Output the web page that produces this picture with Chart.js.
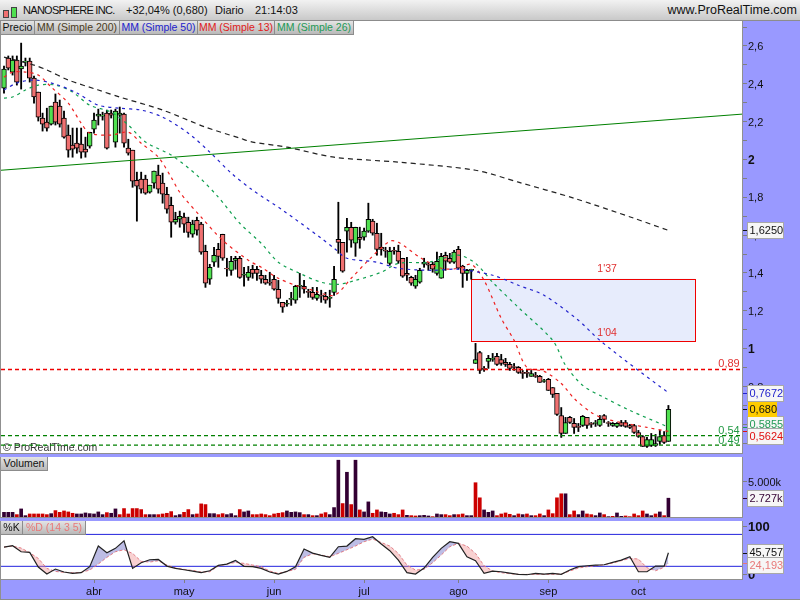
<!DOCTYPE html>
<html lang="es">
<head>
<meta charset="utf-8">
<title>NANOSPHERE INC.</title>
<script src="https://cdn.jsdelivr.net/npm/chart.js@4"></script>
<style>
  html, body { margin: 0; padding: 0; width: 800px; height: 600px; overflow: hidden; background: #9999ff; font: 11px "Liberation Sans", Arial, sans-serif; color: #111; }
  canvas { position: absolute; left: 0; }
  #cabecera { position: absolute; left: 0; top: 0; width: 800px; height: 20px; background: linear-gradient(#f2f2f2, #c9c9c9); border-bottom: 1px solid #8c8c8c; font-size: 11px; }
  #cabecera span { position: absolute; top: 4px; white-space: nowrap; }
  .vela { position: absolute; border: 1px solid #444; width: 4px; }
  .etiqueta { position: absolute; height: 13px; line-height: 13px; text-align: center; background: linear-gradient(#e4e4e4, #b9b9b9); border-right: 1px solid #8c8c8c; border-bottom: 1px solid #8c8c8c; white-space: nowrap; overflow: hidden; font-size: 10.5px; }
  #pie { position: absolute; left: 0; top: 599px; width: 800px; height: 1px; background: #8c8c8c; }
</style>
</head>
<body>
<canvas id="precioChart" width="800" height="433" style="top:21px"></canvas>
<canvas id="volumenChart" width="800" height="61" style="top:457px"></canvas>
<canvas id="estocasticoChart" width="800" height="79" style="top:521px"></canvas>

<div id="cabecera">
  <div class="vela" style="left:3px;top:10px;height:6px;background:#f07070"></div>
  <div class="vela" style="left:11px;top:7px;height:9px;background:#50e050"></div>
  <span style="left:23px;letter-spacing:-0.7px">NANOSPHERE INC.</span>
  <span style="left:126px">+32,04% (0,680)</span>
  <span style="left:215px">Diario</span>
  <span style="left:255px">21:14:03</span>
  <span style="right:3px;font-size:12.5px;top:3px">www.ProRealTime.com</span>
</div>
<div class="etiqueta" style="left:1px;top:21px;width:33px">Precio</div>
<div class="etiqueta" style="left:35px;top:21px;width:84px;color:#4a3a20">MM (Simple 200)</div>
<div class="etiqueta" style="left:120px;top:21px;width:77px;color:#2222cc">MM (Simple 50)</div>
<div class="etiqueta" style="left:198px;top:21px;width:76px;color:#e02020">MM (Simple 13)</div>
<div class="etiqueta" style="left:275px;top:21px;width:78px;color:#229955">MM (Simple 26)</div>
<div class="etiqueta" style="left:1px;top:457px;width:46px">Volumen</div>
<div class="etiqueta" style="left:1px;top:521px;width:21px">%K</div>
<div class="etiqueta" style="left:23px;top:521px;width:62px;color:#e87878">%D (14 3 5)</div>
<div id="pie"></div>

<script>
// Velas diarias
const aperturas = [
  2.377,2.536,2.462,2.525,2.478,2.515,2.520,2.430,2.356,2.219,
  2.197,2.187,2.303,2.282,2.219,2.129,2.076,2.086,2.081,2.055,
  2.070,2.160,2.229,2.229,2.245,2.245,2.092,2.234,2.240,2.060,
  2.049,1.890,1.896,1.896,1.827,1.875,1.917,1.875,1.816,1.758,
  1.668,1.684,1.695,1.668,1.605,1.679,1.658,1.515,1.367,1.457,
  1.525,1.605,1.425,1.414,1.467,1.478,1.388,1.377,1.420,1.420,
  1.388,1.367,1.351,1.367,1.314,1.245,1.235,1.261,1.256,1.330,
  1.330,1.303,1.298,1.266,1.282,1.277,1.266,1.298,1.578,1.562,
  1.621,1.642,1.557,1.589,1.589,1.621,1.674,1.610,1.536,1.520,
  1.451,1.520,1.515,1.478,1.398,1.377,1.330,1.351,1.446,1.446,
  1.446,1.398,1.372,1.494,1.478,1.457,1.525,1.435,1.398,1.414,
  0.922,0.980,0.896,0.933,0.943,0.959,0.943,0.928,0.917,0.906,
  0.901,0.875,0.875,0.854,0.859,0.854,0.827,0.838,0.795,0.764,
  0.647,0.552,0.637,0.605,0.589,0.594,0.637,0.605,0.605,0.594,
  0.647,0.610,0.594,0.589,0.610,0.610,0.594,0.594,0.557,0.536,
  0.483,0.489,0.489,0.510,0.541,0.510
];
const cierres = [
  2.478,2.483,2.525,2.409,2.494,2.520,2.430,2.330,2.224,2.187,
  2.166,2.282,2.197,2.187,2.118,2.049,2.055,2.060,2.039,2.039,
  2.144,2.208,2.240,2.234,2.060,2.234,2.256,2.245,2.086,2.033,
  1.885,1.859,1.843,1.822,1.864,1.938,1.843,1.816,1.737,1.668,
  1.684,1.700,1.658,1.615,1.658,1.626,1.510,1.346,1.430,1.494,
  1.488,1.478,1.422,1.462,1.478,1.377,1.393,1.404,1.398,1.398,
  1.367,1.346,1.346,1.314,1.266,1.219,1.240,1.266,1.330,1.335,
  1.314,1.298,1.271,1.287,1.277,1.256,1.271,1.367,1.562,1.409,
  1.642,1.573,1.642,1.578,1.621,1.684,1.610,1.525,1.525,1.515,
  1.515,1.515,1.462,1.383,1.388,1.346,1.367,1.414,1.457,1.441,
  1.420,1.462,1.488,1.462,1.457,1.510,1.425,1.398,1.414,1.420,
  0.943,0.885,0.891,0.949,0.949,0.917,0.922,0.917,0.896,0.901,
  0.875,0.869,0.869,0.869,0.854,0.822,0.832,0.779,0.758,0.652,
  0.552,0.610,0.610,0.584,0.584,0.642,0.594,0.600,0.610,0.626,
  0.626,0.605,0.605,0.605,0.594,0.589,0.584,0.557,0.536,0.483,
  0.520,0.520,0.499,0.536,0.504,0.680
];
const maximos = [
  2.494,2.547,2.547,2.547,2.615,2.536,2.536,2.441,2.356,2.245,
  2.271,2.282,2.346,2.314,2.256,2.182,2.166,2.166,2.166,2.118,
  2.144,2.245,2.266,2.250,2.261,2.261,2.266,2.277,2.245,2.107,
  2.049,1.933,1.933,1.917,1.864,1.938,1.970,1.928,1.853,1.801,
  1.721,1.727,1.716,1.695,1.679,1.695,1.668,1.547,1.446,1.536,
  1.557,1.605,1.478,1.488,1.488,1.488,1.430,1.435,1.441,1.435,
  1.414,1.388,1.404,1.388,1.361,1.245,1.256,1.298,1.335,1.398,
  1.361,1.314,1.324,1.324,1.309,1.298,1.309,1.435,1.774,1.562,
  1.689,1.668,1.642,1.642,1.637,1.769,1.684,1.663,1.610,1.536,
  1.536,1.536,1.547,1.478,1.483,1.383,1.388,1.425,1.478,1.457,
  1.457,1.510,1.504,1.510,1.504,1.520,1.541,1.441,1.420,1.420,
  1.028,0.986,0.906,0.965,0.975,0.975,0.970,0.949,0.928,0.922,
  0.906,0.885,0.891,0.885,0.875,0.859,0.838,0.843,0.795,0.764,
  0.689,0.637,0.642,0.631,0.605,0.647,0.637,0.610,0.621,0.647,
  0.652,0.615,0.610,0.610,0.621,0.621,0.600,0.600,0.568,0.541,
  0.531,0.552,0.547,0.568,0.562,0.700
];
const minimos = [
  2.351,2.473,2.446,2.393,2.372,2.494,2.409,2.298,2.203,2.150,
  2.150,2.182,2.182,2.171,2.113,2.012,2.012,2.033,2.007,2.012,
  2.060,2.139,2.182,2.208,2.055,2.219,2.065,2.139,2.065,2.023,
  1.853,1.674,1.822,1.816,1.822,1.848,1.822,1.769,1.716,1.589,
  1.658,1.642,1.615,1.589,1.589,1.600,1.499,1.324,1.340,1.435,
  1.430,1.467,1.383,1.388,1.420,1.372,1.330,1.361,1.372,1.361,
  1.346,1.340,1.335,1.309,1.240,1.192,1.224,1.229,1.240,1.271,
  1.293,1.271,1.261,1.256,1.245,1.240,1.219,1.282,1.504,1.404,
  1.510,1.536,1.488,1.531,1.573,1.615,1.600,1.494,1.494,1.483,
  1.441,1.499,1.451,1.377,1.361,1.335,1.319,1.346,1.430,1.414,
  1.404,1.388,1.372,1.414,1.451,1.451,1.420,1.324,1.361,1.367,
  0.922,0.869,0.880,0.896,0.933,0.912,0.912,0.906,0.885,0.885,
  0.869,0.843,0.848,0.854,0.848,0.822,0.822,0.779,0.742,0.647,
  0.531,0.552,0.605,0.552,0.562,0.589,0.578,0.584,0.589,0.589,
  0.610,0.589,0.589,0.584,0.589,0.584,0.578,0.552,0.531,0.483,
  0.478,0.483,0.483,0.494,0.499,0.510
];

// Medias móviles: sesión y valor
const ma200Sesiones = [0,7,10,15,22,27,37,47,55,58,66,77,92,110,120,133,147,155];
const ma200Valores = [2.541,2.499,2.473,2.420,2.367,2.330,2.261,2.171,2.113,2.092,2.065,2.012,1.986,1.943,1.880,1.795,1.689,1.625];
const ma50Sesiones = [0,3,7,12,17,22,27,32,37,43,48,53,58,65,74,77,80,87,92,100,106,114,120,126,134,139,148,155];
const ma50Valores = [2.367,2.404,2.420,2.398,2.351,2.287,2.271,2.261,2.224,2.139,2.039,1.928,1.838,1.732,1.584,1.531,1.478,1.457,1.425,1.414,1.420,1.388,1.335,1.282,1.150,1.044,0.885,0.7672];
const ma13Sesiones = [0,2,5,8,11,15,18,20,25,29,32,36,39,41,46,51,57,60,64,68,72,77,81,85,90,92,97,102,106,109,112,116,119,122,126,130,133,137,140,145,150,155];
const ma13Valores = [2.435,2.462,2.462,2.446,2.383,2.298,2.192,2.139,2.129,2.144,2.086,2.012,1.906,1.827,1.695,1.573,1.467,1.430,1.372,1.335,1.309,1.282,1.372,1.467,1.568,1.562,1.483,1.425,1.425,1.446,1.361,1.160,1.044,0.901,0.880,0.816,0.737,0.663,0.631,0.605,0.584,0.5624];
const ma26Sesiones = [0,2,5,8,12,16,20,25,29,33,39,45,50,55,60,64,69,74,78,82,88,92,99,106,110,114,120,128,131,135,140,146,155];
const ma26Valores = [2.324,2.330,2.367,2.393,2.393,2.356,2.287,2.250,2.182,2.092,2.023,1.917,1.801,1.663,1.557,1.457,1.398,1.351,1.340,1.361,1.404,1.451,1.457,1.494,1.451,1.351,1.218,1.044,0.912,0.806,0.742,0.674,0.5855];

// Volumen en miles y color de cada barra (1 = rojo, 0 = oscuro)
const volumenes = [
  785,785,785,465,1250,325,555,555,555,555,
  465,600,1020,785,970,835,650,555,555,695,
  600,555,835,465,740,650,1250,465,1300,555,
  1300,1300,1160,465,465,465,465,555,650,880,
  325,465,785,1160,465,555,1945,1850,600,600,
  465,600,465,600,325,1160,835,970,465,465,
  555,465,325,555,650,740,970,785,835,740,
  465,465,325,325,555,740,465,1435,7960,1990,
  6300,1850,7960,1110,835,2220,650,1110,835,785,
  555,650,465,1110,370,325,280,325,370,280,
  185,555,465,465,325,465,465,555,325,325,
  4860,2780,1110,785,970,325,555,695,510,325,
  555,465,555,325,325,555,325,1110,600,2780,
  3335,3335,465,970,465,970,555,465,325,695,
  465,185,230,695,230,280,185,555,325,970,
  555,325,555,835,325,2727
];
const volumenBajista = [
  0,0,0,1,0,0,1,1,1,1,
  1,0,1,1,1,1,1,0,0,0,
  0,0,0,0,1,0,0,1,1,1,
  1,1,1,1,0,0,1,1,1,1,
  0,0,1,1,0,1,1,1,0,0,
  1,1,0,0,0,1,0,0,1,1,
  1,1,1,1,1,1,0,0,0,0,
  1,0,1,0,1,1,0,0,0,1,
  0,1,0,1,0,0,1,1,0,0,
  0,1,1,1,0,1,1,0,0,0,
  1,0,0,1,1,0,1,1,0,0,
  1,1,0,0,0,1,1,1,1,0,
  1,0,1,0,1,1,0,1,1,1,
  1,0,1,1,0,0,1,1,0,0,
  1,0,1,0,0,1,1,1,1,1,
  0,0,1,0,1,0
];

// Estocástico, una lectura cada dos sesiones y la última
const kValores = [
  57.6,60.4,47.9,46.5,16.0,1.4,11.8,5.6,2.8,4.2,
  16.7,59.7,45.8,54.9,70.8,13.2,25,31.2,31.9,18,
  13.2,10.4,7.6,4.2,8.3,19.4,22.2,29.9,17.4,16.7,
  13.2,5.6,1.4,6.9,16.7,53.5,45.1,40.3,36.1,58.3,
  59.7,75,73.6,79.1,63.9,50,30.5,
  4.2,1.4,13.9,36.1,54.9,68.7,65.3,37.5,29.2,2.8,
  7.6,6.2,3.5,0.7,0,2.8,1.4,2.8,0.7,9.7,
  16.7,18.7,20.1,20.8,25.7,30.5,37.5,6.2,6.2,18,18,45.757
];
const dValores = [
  57.6,59.7,55.5,45.8,34,13.2,6.9,4.9,4.2,4.9,
  9.7,22.2,36.1,47.9,52,44.4,27.8,26.4,29.1,20.1,
  13.9,11.1,9,5.6,6.2,18,22.2,25.7,23.6,20.1,
  16.7,7.6,2.8,6.9,11.1,36.1,43.7,40.9,37.5,44.4,
  52,59.7,68.7,74.3,67.3,59.7,44.4,
  20.1,9.7,11.1,25,40.9,58.3,65.3,59.7,44.4,18.7,
  7.6,4.2,2.1,0.7,0.7,0.7,0.7,0.7,1.4,7.6,
  13.9,16.7,18.7,20.8,24.3,29.1,34,32.6,14.6,8.3,15.3,24.193
];
const estocasticoNiveles = [84, 17.5];

// Ejes
const mesesEtiquetas = ['abr','may','jun','jul','ago','sep','oct'];
const mesesSesiones = [21,42,63,84,106,127,148];
const precioTicks = [2.7,2.6,2.5,2.4,2.3,2.2,2.1,2,1.9,1.8,1.7,1.6,1.5,1.4,1.3,1.2,1.1,1,0.9,0.8,0.7,0.6,0.5];
const precioEtiquetados = [2.6,2.4,2.2,2,1.8,1.6,1.4,1.2,1,0.8];
const volumenTicks = [5000];
const estocasticoTicks = [100,0];

// Líneas dibujadas a mano en el gráfico
const tendenciaSesiones = [-0.7,172.4];
const tendenciaValores = [1.943,2.240];
const soportesValores = [0.54,0.49];
const resistenciaValor = 0.89;
const cajaSesiones = [109,161.2];
const cajaValores = [1.04,1.37];
const precioActual = 0.68;

const X_MIN = -0.7;
const X_MAX = 172.4;
const FUENTE = '"Liberation Sans", Arial, sans-serif';
const ROJO_VELA = '#f07070';
const VERDE_VELA = '#50e050';

Chart.defaults.font.family = FUENTE;
Chart.defaults.font.size = 11;
Chart.defaults.color = '#111';

// Función para formatear números con coma decimal
function conComa(num) {
  return String(num).replace('.', ',');
}

// Función para juntar sesiones y valores en puntos
function puntos(sesiones, valores) {
  return sesiones.map((s, n) => ({ x: s, y: valores[n] }));
}

function lineaRecta(y) {
  return [{ x: X_MIN, y: y }, { x: X_MAX, y: y }];
}

function mediaMovil(sesiones, valores, color, trazo) {
  return {
    type: 'line', data: puntos(sesiones, valores), borderColor: color, borderWidth: 1.2,
    borderDash: trazo, pointRadius: 0, tension: 0.3, order: 2
  };
}

function nivel(y, color) {
  return {
    type: 'line', data: lineaRecta(y), borderColor: color, borderWidth: 1.3,
    borderDash: [4, 3], pointRadius: 0, order: 1
  };
}

// Etiqueta de valor en el eje derecho
function etiquetaValor(ctx, y, tickY, texto, color, fondo, ancho) {
  ctx.save();
  ctx.fillStyle = color;
  ctx.fillRect(743, Math.round(tickY), 4, 1);
  y = Math.round(y);
  ctx.fillStyle = fondo;
  ctx.fillRect(748, y - 7, ancho, 15);
  if (fondo !== '#ffcc00') {
    ctx.strokeStyle = '#a8a8a8';
    ctx.strokeRect(747.5, y - 7.5, ancho + 1, 16);
  }
  ctx.fillStyle = color;
  ctx.font = '11px ' + FUENTE;
  ctx.textAlign = 'left';
  ctx.textBaseline = 'middle';
  ctx.fillText(texto, 749.5, y + 1);
  ctx.restore();
}

// Fondo blanco y marco gris de cada panel
const panelPlugin = {
  id: 'panel',
  beforeDraw(chart) {
    const a = chart.chartArea;
    chart.ctx.fillStyle = '#fff';
    chart.ctx.fillRect(a.left, a.top, a.right - a.left, a.bottom - a.top);
  },
  afterDraw(chart) {
    const a = chart.chartArea;
    const ctx = chart.ctx;
    ctx.save();
    ctx.fillStyle = '#909090';
    ctx.fillRect(0, 0, 1, chart.height);
    ctx.fillRect(a.right - 1, a.top, 1, a.bottom - a.top);
    ctx.fillRect(0, a.bottom - 1, a.right, 1);
    ctx.restore();
  }
};

// Caja azul, textos de niveles y marca de agua
const notasPlugin = {
  id: 'notas',
  beforeDatasetsDraw(chart) {
    const { ctx, scales: { x, y } } = chart;
    const x0 = x.getPixelForValue(cajaSesiones[0]);
    const x1 = x.getPixelForValue(cajaSesiones[1]);
    const y0 = y.getPixelForValue(cajaValores[1]);
    const y1 = y.getPixelForValue(cajaValores[0]);
    ctx.save();
    ctx.fillStyle = '#e7ecfc';
    ctx.fillRect(x0, y0, x1 - x0, y1 - y0);
    ctx.strokeStyle = '#f00000';
    ctx.lineWidth = 1;
    ctx.strokeRect(Math.round(x0) + 0.5, Math.round(y0) + 0.5, Math.round(x1 - x0), Math.round(y1 - y0));
    ctx.fillStyle = '#333';
    ctx.font = '10.5px ' + FUENTE;
    ctx.textBaseline = 'alphabetic';
    ctx.fillText('© ProRealTime.com', 3, 430);
    ctx.restore();
  },
  afterDraw(chart) {
    const { ctx, scales: { x, y } } = chart;
    ctx.save();
    ctx.font = '10.5px ' + FUENTE;
    ctx.textAlign = 'center';
    ctx.fillStyle = '#e03030';
    ctx.fillText("1'37", x.getPixelForValue(140.7), y.getPixelForValue(1.37) - 7);
    ctx.fillText("1'04", x.getPixelForValue(140.7), y.getPixelForValue(1.04) - 5);
    ctx.font = '11px ' + FUENTE;
    ctx.fillText('0,89', 729, y.getPixelForValue(resistenciaValor) - 2);
    ctx.fillStyle = '#229944';
    ctx.fillText('0,54', 729, y.getPixelForValue(soportesValores[0]) - 2);
    ctx.fillText('0,49', 729, y.getPixelForValue(soportesValores[1]) - 1);
    ctx.restore();

    const py = v => y.getPixelForValue(v);
    etiquetaValor(ctx, py(1.625), py(1.625), '1,6250', '#111', '#f6f6f6', 35);
    etiquetaValor(ctx, py(0.7672), py(0.7672), '0,7672', '#2222cc', '#f6f6f6', 35);
    etiquetaValor(ctx, py(0.5855) - 3, py(0.5855), '0,5855', '#229955', '#f6f6f6', 35);
    etiquetaValor(ctx, py(0.5624) + 5, py(0.5624), '0,5624', '#e01010', '#f6f6f6', 35);
    etiquetaValor(ctx, py(precioActual), py(precioActual), '0,680', '#111', '#ffcc00', 29);
  }
};

const volumenTagPlugin = {
  id: 'volumenTag',
  afterDraw(chart) {
    const y = chart.scales.y.getPixelForValue(2727);
    etiquetaValor(chart.ctx, y, y, '2.727k', '#330033', '#f6f6f6', 35);
  }
};

const estocasticoTagPlugin = {
  id: 'estocasticoTag',
  afterDraw(chart) {
    const py = v => chart.scales.y.getPixelForValue(v);
    etiquetaValor(chart.ctx, py(45.757) - 1, py(45.757), '45,757', '#111', '#f6f6f6', 35);
    etiquetaValor(chart.ctx, py(24.193) + 2, py(24.193), '24,193', '#e87878', '#f6f6f6', 35);
  }
};

// Sin márgenes extra por las etiquetas: el área del gráfico llena el lienzo
function sinPadding(s) {
  s.paddingTop = 0;
  s.paddingBottom = 0;
  s.paddingLeft = 0;
  s.paddingRight = 0;
}

// Opciones comunes a los tres paneles
function opciones(yMin, yMax, ticksY, etiquetaY, fuenteY, conMeses) {
  return {
    responsive: false,
    devicePixelRatio: 1,
    animation: false,
    layout: { padding: { left: 1, right: 0, top: 0, bottom: 0 } },
    plugins: { legend: { display: false }, tooltip: { enabled: false } },
    scales: {
      x: {
        type: 'linear',
        offset: false,
        min: X_MIN,
        max: X_MAX,
        display: conMeses,
        afterBuildTicks: s => { s.ticks = mesesSesiones.map(v => ({ value: v })); },
        afterFit: s => { if (conMeses) s.height = 20; sinPadding(s); },
        grid: { offset: false, drawOnChartArea: false, drawTicks: true, tickLength: 3, color: '#808080' },
        border: { display: false },
        ticks: {
          autoSkip: false,
          maxRotation: 0,
          padding: 2,
          font: { size: 11 },
          callback: v => mesesEtiquetas[mesesSesiones.indexOf(v)]
        }
      },
      y: {
        position: 'right',
        min: yMin,
        max: yMax,
        afterBuildTicks: s => { s.ticks = ticksY.map(v => ({ value: v })); },
        afterFit: s => { s.width = 57; sinPadding(s); },
        grid: { drawOnChartArea: false, drawTicks: true, tickLength: 4, color: '#808080' },
        border: { display: false },
        ticks: { autoSkip: false, padding: 1, labelOffset: 1, font: fuenteY, callback: etiquetaY }
      }
    }
  };
}

// Panel de precio
new Chart(document.getElementById('precioChart'), {
  type: 'bar',
  data: {
    datasets: [
      {
        data: maximos.map((h, i) => ({ x: i, y: [minimos[i], h] })),
        backgroundColor: '#000', barThickness: 1.2, grouped: false, order: 6
      },
      {
        data: aperturas.map((o, i) => ({ x: i, y: [Math.min(o, cierres[i]), Math.max(o, cierres[i])] })),
        backgroundColor: aperturas.map((o, i) => (cierres[i] >= o ? VERDE_VELA : ROJO_VELA)),
        borderColor: '#000', borderWidth: 1, borderSkipped: false, barThickness: 4.8, grouped: false, order: 5
      },
      mediaMovil(ma200Sesiones, ma200Valores, '#222', [5, 4]),
      mediaMovil(ma50Sesiones, ma50Valores, '#2222cc', [3, 4]),
      mediaMovil(ma13Sesiones, ma13Valores, '#ee2222', [3, 4]),
      mediaMovil(ma26Sesiones, ma26Valores, '#11a050', [3, 4]),
      {
        type: 'line', data: puntos(tendenciaSesiones, tendenciaValores),
        borderColor: '#008000', borderWidth: 1, pointRadius: 0, order: 1
      },
      nivel(resistenciaValor, '#ee0000'),
      nivel(soportesValores[0], '#008000'),
      nivel(soportesValores[1], '#008000')
    ]
  },
  options: opciones(0.4434, 2.7318, precioTicks,
    v => (precioEtiquetados.includes(v) ? conComa(v) : ''),
    c => (c.tick && (c.tick.value === 2 || c.tick.value === 1) ? { size: 12, weight: 'bold' } : { size: 11 }),
    false),
  plugins: [panelPlugin, notasPlugin]
});

// Panel de volumen
new Chart(document.getElementById('volumenChart'), {
  type: 'bar',
  data: {
    datasets: [{
      data: volumenes.map((v, i) => ({ x: i, y: v })),
      backgroundColor: volumenBajista.map(b => (b ? '#cc0000' : '#330033')),
      barThickness: 3, grouped: false
    }]
  },
  options: opciones(0, 8403, volumenTicks, () => '5.000k', { size: 11 }, false),
  plugins: [panelPlugin, volumenTagPlugin]
});

// Panel del estocástico
const sesionesEstocastico = kValores.map((_, n) => (n < 78 ? n * 2 : 155));
new Chart(document.getElementById('estocasticoChart'), {
  type: 'line',
  data: {
    datasets: [
      {
        data: puntos(sesionesEstocastico, kValores), borderColor: '#222', borderWidth: 1.2, pointRadius: 0,
        fill: { target: 1, above: 'rgba(90,90,190,0.4)', below: 'rgba(240,140,140,0.4)' }, order: 1
      },
      {
        data: puntos(sesionesEstocastico, dValores), borderColor: '#ee8080', borderWidth: 1,
        borderDash: [3, 2], pointRadius: 0, fill: false, order: 2
      },
      {
        data: lineaRecta(estocasticoNiveles[0]), borderColor: '#2222dd', borderWidth: 1, pointRadius: 0, fill: false, order: 3
      },
      {
        data: lineaRecta(estocasticoNiveles[1]), borderColor: '#2222dd', borderWidth: 1, pointRadius: 0, fill: false, order: 3
      }
    ]
  },
  options: opciones(-11, 111.9, estocasticoTicks, v => String(v), { size: 13, weight: 'bold' }, true),
  plugins: [panelPlugin, estocasticoTagPlugin]
});
</script>
</body>
</html>
